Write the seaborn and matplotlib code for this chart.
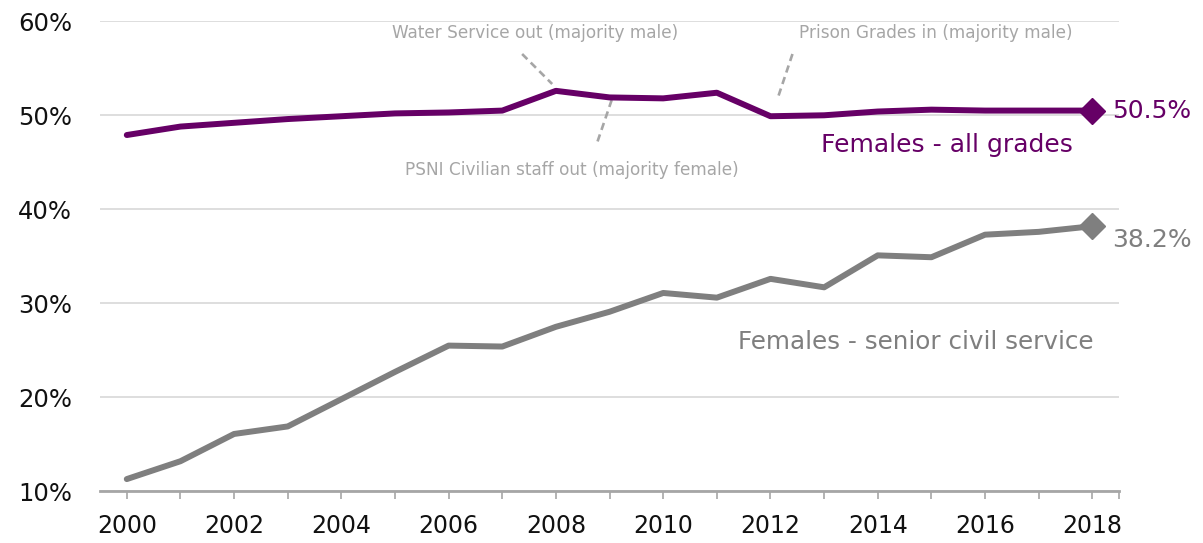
import matplotlib
matplotlib.use("Agg")
import matplotlib.pyplot as plt
import numpy as np
import pandas as pd
import seaborn as sns

# Share of females in the civil service, by year (%)
years = list(range(2000, 2019))
all_grades = [47.9, 48.8, 49.2, 49.6, 49.9, 50.2, 50.3, 50.5, 52.6, 51.9,
              51.8, 52.4, 49.9, 50.0, 50.4, 50.6, 50.5, 50.5, 50.5]
senior_cs = [11.3, 13.2, 16.1, 16.9, 19.8, 22.7, 25.5, 25.4, 27.5, 29.1,
             31.1, 30.6, 32.6, 31.7, 35.1, 34.9, 37.3, 37.6, 38.2]

series_names = ["Females - all grades", "Females - senior civil service"]
series_colors = ["#660066", "#7f7f7f"]
y_ticks = [10, 20, 30, 40, 50, 60]
x_tick_labels = [str(y) for y in range(2000, 2019, 2)]

sns.set_theme(style="white")
plt.rcParams["font.family"] = ["DejaVu Sans"]

df = pd.DataFrame({
    "year": years * 2,
    "pct": all_grades + senior_cs,
    "series": [series_names[0]] * len(years) + [series_names[1]] * len(years),
})

fig = plt.figure(figsize=(12.03, 5.43), dpi=100)
ax = fig.add_axes([0.0831, 0.0952, 0.8472, 0.8656])

sns.lineplot(data=df, x="year", y="pct", hue="series",
             palette=dict(zip(series_names, series_colors)),
             linewidth=4.3, legend=False, ax=ax, zorder=3)

# End-point diamonds and value labels
for vals, col in zip([all_grades, senior_cs], series_colors):
    ax.plot(years[-1], vals[-1], marker="D", markersize=13, color=col,
            zorder=4, clip_on=False)
ax.annotate(f"{all_grades[-1]:.1f}%", (years[-1], all_grades[-1]),
            xytext=(14, 0), textcoords="offset points", va="center",
            ha="left", fontsize=18, color=series_colors[0])
ax.annotate(f"{senior_cs[-1]:.1f}%", (years[-1], senior_cs[-1]),
            xytext=(14, -10), textcoords="offset points", va="center",
            ha="left", fontsize=18, color=series_colors[1])

# Series labels
ax.text(2017.63, 46.84, series_names[0], ha="right", va="center",
        fontsize=18, color=series_colors[0])
ax.text(2018.03, 25.9, series_names[1], ha="right", va="center",
        fontsize=17.7, color=series_colors[1])

# Notes on organisational changes
note_col = "#a6a6a6"
ax.text(2004.94, 58.76, "Water Service out (majority male)", ha="left",
        va="center", fontsize=12.2, color=note_col)
ax.text(2012.54, 58.76, "Prison Grades in (majority male)", ha="left",
        va="center", fontsize=12.2, color=note_col)
ax.text(2005.19, 44.18, "PSNI Civilian staff out (majority female)",
        ha="left", va="center", fontsize=12.2, color=note_col)
for (x0, y0), (x1, y1) in [((2007.37, 56.52), (2007.93, 53.33)),
                           ((2009.04, 51.63), (2008.76, 46.95)),
                           ((2012.41, 56.52), (2012.13, 51.74))]:
    ax.plot([x0, x1], [y0, y1], color=note_col, linewidth=1.9,
            dashes=(2.8, 1.8), zorder=2)

# Axes styling
ax.set_xlim(1999.5, 2018.5)
ax.set_ylim(10, 60)
ax.set_yticks(y_ticks)
ax.set_yticklabels([f"{v}%" for v in y_ticks], fontsize=17.5, color="#111111")
ax.set_xticks(list(range(2000, 2019, 2)))
ax.set_xticklabels(x_tick_labels, fontsize=17, color="#111111")
ax.set_xticks(list(range(2001, 2018, 2)) + [2018.5], minor=True)
ax.tick_params(axis="y", length=0, pad=20)
ax.tick_params(axis="x", which="both", direction="out", length=6, width=1.2,
               color="#a6a6a6", pad=10, bottom=True)
ax.grid(axis="y", color="#dedede", linewidth=1.4)
ax.grid(axis="x", visible=False)
for side in ["left", "right", "top"]:
    ax.spines[side].set_visible(False)
ax.spines["bottom"].set_color("#a6a6a6")
ax.spines["bottom"].set_linewidth(2)
ax.set_xlabel("")
ax.set_ylabel("")

fig.savefig("out.png", dpi=100)
